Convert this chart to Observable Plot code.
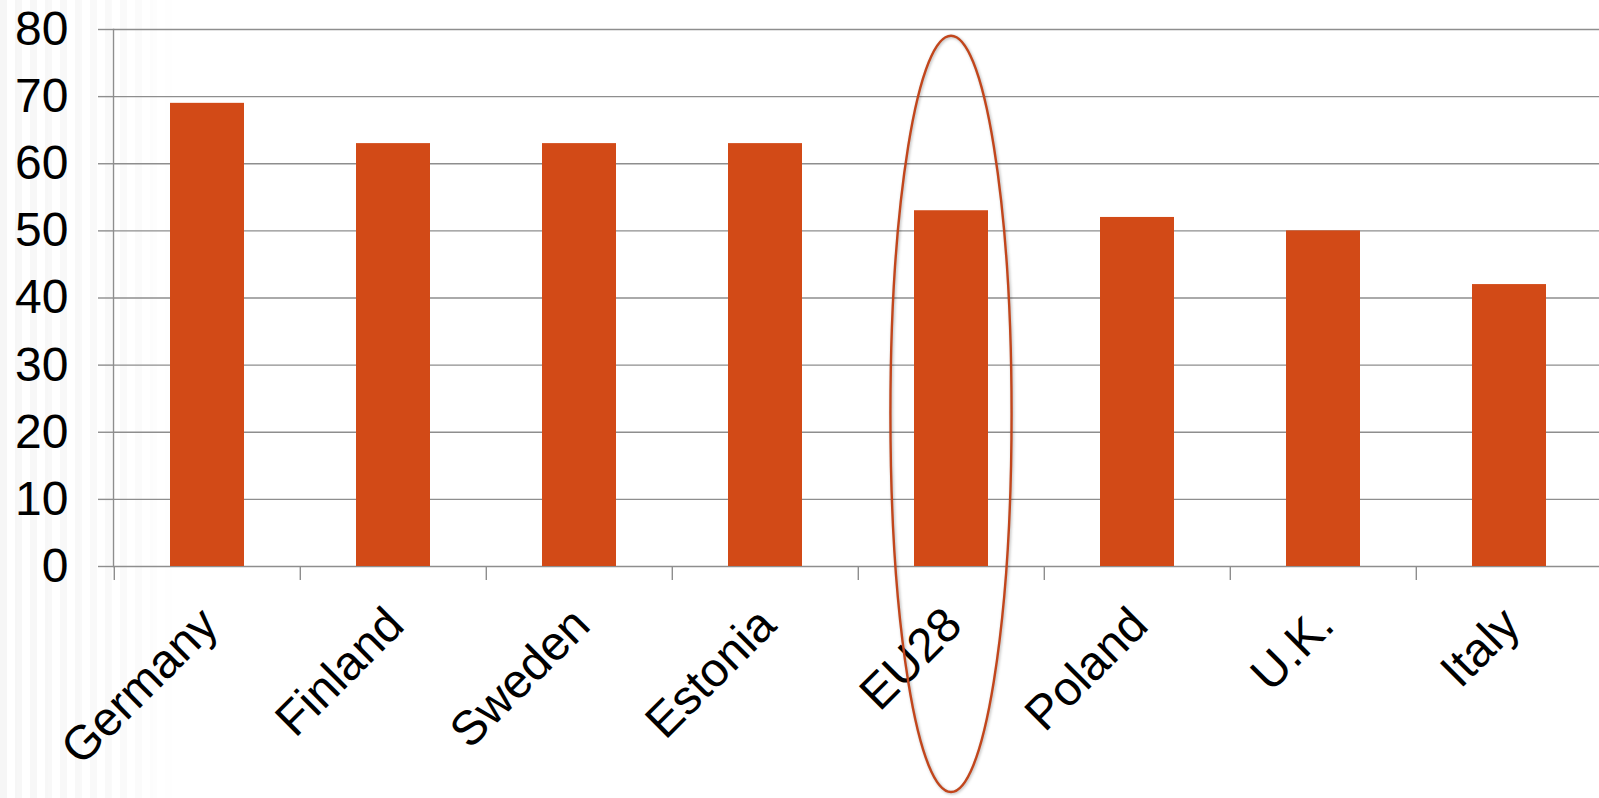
<!DOCTYPE html>
<html>
<head>
<meta charset="utf-8">
<script src="https://cdn.jsdelivr.net/npm/d3@7"></script>
<script src="https://cdn.jsdelivr.net/npm/@observablehq/plot@0.6"></script>
<style>
  html, body { margin: 0; padding: 0; background: #fff; }
  #wrap { position: relative; width: 1599px; height: 798px; overflow: hidden; }
  #stripes {
    position: absolute; left: 0; top: 0; width: 180px; height: 798px;
    background: repeating-linear-gradient(90deg, rgba(0,0,0,0.04) 0 7px, rgba(0,0,0,0) 7px 15px);
    -webkit-mask-image: linear-gradient(to right, rgba(0,0,0,0.9), rgba(0,0,0,0.5) 70%, rgba(0,0,0,0));
    mask-image: linear-gradient(to right, rgba(0,0,0,0.9), rgba(0,0,0,0.5) 70%, rgba(0,0,0,0));
  }
  #chart { position: absolute; left: 0; top: 0; }
</style>
</head>
<body>
<div id="wrap"><div id="stripes"></div><div id="chart"></div></div>
<script>
// Share of the population (%) by country, with the EU28 average highlighted
const countries = ["Germany", "Finland", "Sweden", "Estonia", "EU28", "Poland", "U.K.", "Italy"];
const values = [69, 63, 63, 63, 53, 52, 50, 42];
const yTicks = [0, 10, 20, 30, 40, 50, 60, 70, 80];
const highlight = "EU28";
const ringTop = 79; // value at the top of the highlight ring

const rows = countries.map((c, i) => ({country: c, value: values[i]}));

const W = 1599, H = 798;
const padLeft = 113, padTop = 29, baseY = 566;
const step = 186.4;
const xRange = [padLeft, padLeft + step * countries.length];

const barColor = "#D24A17";
const gridColor = "#8e8e8e";
const font = "'Liberation Sans', Arial, Helvetica, sans-serif";

// Ring drawn around the highlighted category, positioned from the scales
function highlightRing(index, scales, vals, dims) {
  const x = scales.x, y = scales.y;
  const bw = x.bandwidth ? x.bandwidth() : step * 0.4;
  const cx = x(highlight) + bw / 2;
  const y0 = y(ringTop);
  const y1 = dims.height - 6;
  const g = d3.create("svg:g");
  g.append("ellipse")
    .attr("cx", cx)
    .attr("cy", (y0 + y1) / 2)
    .attr("rx", step * 0.325)
    .attr("ry", (y1 - y0) / 2)
    .attr("fill", "none")
    .attr("stroke", "#C2461C")
    .attr("stroke-width", 2.4)
    .style("filter", "drop-shadow(1px 1px 1.5px rgba(0,0,0,0.3))");
  return g.node();
}

const chart = Plot.plot({
  width: W,
  height: H,
  marginLeft: padLeft,
  marginTop: padTop,
  marginBottom: H - baseY,
  marginRight: 0,
  style: {background: "transparent", fontFamily: font, fontSize: "48px", color: "#000"},
  x: {domain: countries, range: xRange, paddingInner: 0.6, paddingOuter: 0.3, axis: null},
  y: {domain: [0, 80], axis: null},
  marks: [
    Plot.gridY(yTicks, {stroke: gridColor, strokeOpacity: 1, strokeWidth: 1.4}),
    Plot.axisY(yTicks, {
      tickSize: 15, tickPadding: 30, stroke: gridColor, strokeWidth: 1.4,
      fontSize: 48, fill: "#000", label: null, tickFormat: d => String(d)
    }),
    // category boundary ticks below the baseline
    Plot.axisX(countries, {
      anchor: "bottom", tickSize: 14, text: null, label: null,
      dx: -step / 2, stroke: gridColor, strokeWidth: 1.4
    }),
    Plot.frame({anchor: "left", stroke: gridColor, strokeWidth: 1.4}),
    Plot.barY(rows, {x: "country", y: "value", fill: barColor}),
    Plot.text(countries, {
      x: d => d, frameAnchor: "bottom", dx: 13, dy: 61,
      rotate: -45, textAnchor: "end", lineAnchor: "bottom",
      fontSize: 48, fill: "#000"
    }),
    highlightRing
  ]
});

document.getElementById("chart").appendChild(chart);
</script>
</body>
</html>
